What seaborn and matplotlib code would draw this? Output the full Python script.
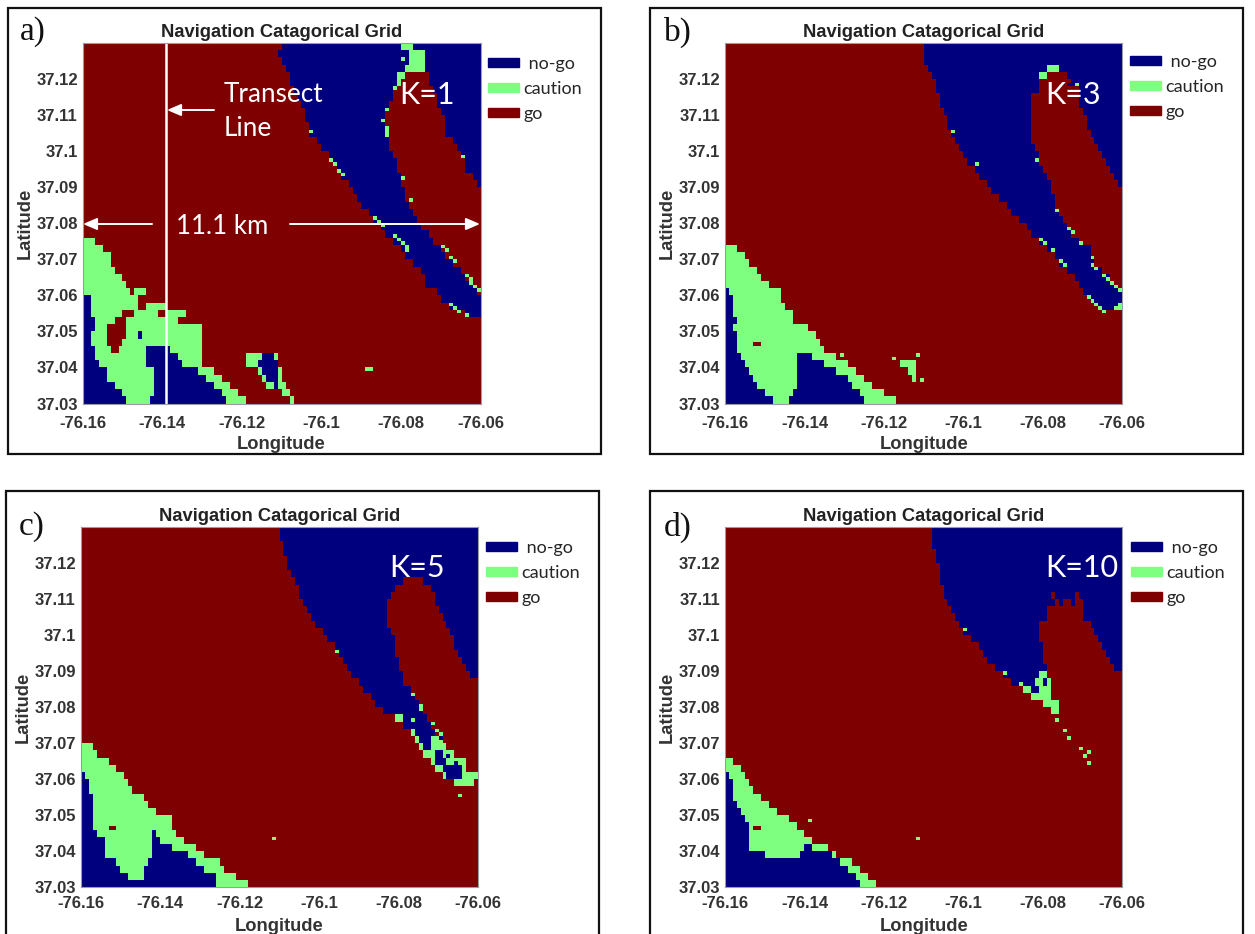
import numpy as np
import matplotlib
matplotlib.use("Agg")
import matplotlib.pyplot as plt
from matplotlib.colors import ListedColormap
from matplotlib.patches import Patch, Rectangle
import seaborn as sns

W, H = 1255, 934
CATEGORIES = ["no-go", "caution", "go"]
LEGEND_LABELS = [" no-go", "caution", "go"]
COLORS = ["#00007f", "#7fff7f", "#7f0000"]
LON_LABELS = ["-76.16", "-76.14", "-76.12", "-76.1", "-76.08", "-76.06"]
LON_TICK_COLS = [0, 20, 40, 60, 80, 100]
LAT_LABELS = ["37.12", "37.11", "37.1", "37.09", "37.08", "37.07", "37.06", "37.05", "37.04", "37.03"]
LAT_TICK_ROWS = [10, 20, 30, 40, 50, 60, 70, 80, 90, 100]
TITLE = "Navigation Catagorical Grid"

# Each string is one 2-row band from the north: letter = category, number = last column of the run
BANDS_A = [
 "r50 n80 c83 n100","r49 n82 c86 n100","r50 n82 c86 n100","r51 n81 c86 n100","r52 n79 c81 r87 n100",
 "r52 n79 c80 r87 n100","r53 n78 r88 n100","r54 n78 r89 n100","r55 n77 r89 n100","r56 n76 r90 n100",
 "r56 n76 r91 n100","r57 n76 r91 n100","r57 n76 r91 n100","r59 n77 r93 n100","r60 n77 r94 n100",
 "r62 n78 r95 n100","r63 n79 r96 n100","r64 n79 r96 n100","r65 n80 r98 n100","r67 n80 r99 n100",
 "r68 n81 r100","r69 n81 r100","r70 n82 r100","r72 n83 r100","r73 n84 r100",
 "r75 n85 r100","r76 n87 r100","c3 r78 n88 r100","c5 r80 n90 r100","c7 r81 n91 r100",
 "c7 r83 n93 r100","c8 r85 n95 r100","c10 r86 n96 r100","c11 r86 n98 r100","c12 r13 c16 r89 n99 r100",
 "n2 c14 r90 n100","n2 c14 r16 c21 r92 n100","n2 c10 r13 c19 r21 c26 r96 n100","n3 c8 r11 c24 r100","n3 c6 r11 c30 r100",
 "n2 c6 r11 c14 n15 c30 r100","n2 c6 r10 c30 r100","n3 c7 r9 c16 n22 c30 r100","n3 c16 n24 c30 r41 c45 n48 c49 r100","n4 c16 n25 c30 r41 c44 n49 r100",
 "n6 c18 n29 c33 r44 c45 n49 c50 r100","n6 c18 n31 c35 r45 c46 n49 c50 r100","n8 c18 n33 c37 r46 c48 n49 c51 r100","n10 c18 n35 c39 r50 c52 r100","n11 c17 n36 c41 r52 c53 r100",
]
BANDS_B = [
 "r50 n100","r50 n100","r50 n100","r51 n81 c84 n100","r52 n79 c81 r86 n100",
 "r53 n79 r87 n100","r53 n79 r89 n100","r54 n77 r89 n100","r54 n77 r89 n100","r55 n77 r90 n100",
 "r56 n77 r91 n100","r56 n77 r91 n100","r57 n77 r92 n100","r58 n77 r93 n100","r59 n78 r94 n100",
 "r60 n79 r95 n100","r61 n79 r96 n100","r63 n80 r97 n100","r64 n81 r98 n100","r66 n82 r99 n100",
 "r67 n82 r100","r69 n83 r100","r71 n83 r100","r72 n84 r100","r74 n85 r100",
 "r76 n86 r100","r77 n87 r100","r79 n89 r100","c3 r81 n92 r100","c5 r83 n92 r100",
 "c6 r84 n93 r100","c8 r86 n95 r100","c9 r88 n97 r100","c11 r89 n98 r100","n1 c14 r90 n100",
 "n2 c14 r92 n100","n2 c15 r94 n99 c100","n2 c17 r100","n3 c17 r100","n2 c21 r100",
 "n3 c23 r100","n3 c24 r100","n3 c25 r100","n4 c18 n22 c28 r100","n5 c18 n25 c31 r44 c48 r100",
 "n6 c18 n28 c33 r46 c48 r100","n7 c18 n31 c35 r47 c48 r100","n8 c18 n32 c37 r100","n10 c17 n34 c40 r100","n12 c16 n35 c43 r100",
]
BANDS_C = [
 "r50 n100","r50 n100","r51 n100","r51 n100","r52 n100",
 "r52 n100","r53 n100","r54 n81 r86 n100","r55 n79 r88 n100","r55 n78 r89 n100",
 "r56 n77 r89 n100","r57 n77 r90 n100","r58 n77 r91 n100","r59 n77 r92 n100","r61 n78 r93 n100",
 "r62 n79 r94 n100","r64 n79 r94 n100","r65 n79 r95 n100","r66 n80 r96 n100","r67 n80 r97 n100",
 "r68 n81 r98 n100","r70 n81 r100","r71 n83 r100","r73 n84 r100","r74 n85 r100",
 "r76 n86 r100","r79 c81 n87 r100","r81 n88 r100","r83 c84 n89 r100","r84 c85 n88 c91 r100",
 "c3 r85 c86 n88 c92 r100","c4 r86 c89 n91 c94 r100","c7 r88 c89 n92 c97 r100","c9 r89 c91 n96 c97 r100","n1 c11 r91 c92 n96 c100",
 "n2 c12 r94 c99 r100","n2 c13 r100","n3 c16 r100","n3 c17 r100","n3 c19 r100",
 "n3 c23 r100","n3 c23 r100","n4 c18 n19 c24 r100","n6 c18 n20 c26 r100","n6 c18 n23 c29 r100",
 "n6 c18 n27 c31 r100","n9 c17 n29 c35 r100","n10 c16 n31 c36 r100","n12 c16 n34 c39 r100","n34 c42 r100",
]
BANDS_D = [
 "r52 n100","r52 n100","r52 n100","r53 n100","r53 n100",
 "r54 n100","r54 n100","r54 n100","r55 n100","r55 n82 r83 n88 r89 n100",
 "r56 n83 r84 n85 r87 n88 r90 n100","r57 n81 r90 n100","r58 n81 r90 n100","r59 n79 r92 n100","r60 n79 r93 n100",
 "r62 n79 r94 n100","r64 n80 r95 n100","r65 n80 r96 n100","r66 n80 r97 n100","r68 n81 r98 n100",
 "r70 n79 c81 r100","r72 n78 c80 n81 c82 r100","r75 c77 n79 c82 r100","r77 c82 r100","r80 c84 r100",
 "r82 c84 r100","r100","r100","r100","r100",
 "r100","r100","c2 r100","c4 r100","n1 c5 r100",
 "n2 c6 r100","n2 c7 r100","n2 c9 r100","n3 c11 r100","n4 c13 r100",
 "n5 c16 r100","n6 c18 r100","n6 c20 r100","n6 c22 r100","n6 c20 n22 c26 r100",
 "n10 c19 n27 c28 r100","n29 c32 r100","n31 c34 r100","n33 c36 r100","n34 c38 r100",
]

# Single-cell marks: (column, row from north)
SPECKS_A = [(80,4),(78,12),(76,18),(75,21),(76,23),(76,24),(76,25),(57,24),(62,32),(63,33),(64,35),(65,36),
            (73,48),(74,49),(75,50),(95,31),(80,37),(82,43),(78,53),(79,54),(80,55),(81,56),(81,57),(90,56),
            (91,57),(92,59),(93,60),(96,64),(97,65),(97,66),(98,67),(99,68),(92,72),(93,73),(94,74),(96,75),
            (71,90),(72,90)]
SPECKS_B = [(88,11),(57,24),(63,33),(78,32),(83,46),(86,51),(87,52),(89,55),(92,59),(92,61),(93,62),(95,64),
            (96,65),(97,66),(98,67),(99,68),(79,54),(80,55),(82,57),(84,60),(85,61),(91,70),(92,71),(93,72),
            (94,73),(95,74),(98,73),(29,86),(42,87),(48,86),(49,93)]
NOGO_SPECKS_B = [(86,11)]
RED_SPECKS_B = [(7,83),(8,83),(14,70)]
SPECKS_C = [(83,46),(85,49),(85,50),(83,53),(88,54),(89,56),(90,57),(95,74),(64,34),(48,86)]
NOGO_SPECKS_C = [(90,58),(92,63),(94,65)]
RED_SPECKS_C = [(7,83),(8,83),(12,71)]
SPECKS_D = [(60,28),(70,40),(74,43),(83,53),(85,56),(86,58),(89,61),(91,62),(90,63),(91,65),(21,81),(48,86)]
RED_SPECKS_D = [(7,83),(8,83)]

# Panel layout in reference pixels: frame, axes, letter, K label, legend left, legend top row, x tick pad, x label pad
PANELS = [
    ("a)", BANDS_A, SPECKS_A, [], [], (8,8,601,454), (82.7,43,480.5,403.5), (20,32), (399,95), "K=1", 488, 64, 8.8, 4),
    ("b)", BANDS_B, SPECKS_B, NOGO_SPECKS_B, RED_SPECKS_B, (650,8,1243,454), (725,43,1122.3,403.5), (664,32), (1045,95), "K=3", 1130, 62, 8.8, 4),
    ("c)", BANDS_C, SPECKS_C, NOGO_SPECKS_C, RED_SPECKS_C, (6,491,599,945), (80.7,527,478.3,887.3), (19,527), (389,568), "K=5", 486, 548, 6.6, 4.7),
    ("d)", BANDS_D, SPECKS_D, [], RED_SPECKS_D, (650,491,1243,945), (725,527,1122.3,887.3), (664,527), (1045,568), "K=10", 1131, 548, 6.6, 4.7),
]

CODE = {"n": 0, "c": 1, "r": 2}


def build(bands, specks, nogo, red):
    rows = []
    for band in bands:
        row, start = [], 0
        for run in band.split():
            end = int(run[1:])
            row += [CODE[run[0]]] * (end - start)
            start = end
        rows.append(row)
    grid = np.repeat(np.array(rows), 2, axis=0)
    for c, r in specks:
        grid[r, c] = 1
    for c, r in nogo:
        grid[r, c] = 0
    for c, r in red:
        grid[r, c] = 2
    return grid


sns.set_theme(style="white")
plt.rcParams["font.family"] = ["Liberation Sans", "DejaVu Sans"]
fig = plt.figure(figsize=(W / 100, H / 100), dpi=100, facecolor="white")


def fx(x):
    return x / W


def fy(y):
    return 1 - y / H


cmap = ListedColormap(COLORS)
for letter, bands, specks, nogo, red, frame, box, lpos, kpos, ktext, legx, legy, xpad, xlabpad in PANELS:
    fig.add_artist(Rectangle((fx(frame[0]), fy(frame[3])), (frame[2] - frame[0]) / W, (frame[3] - frame[1]) / H,
                             transform=fig.transFigure, fill=False, ec="#111111", lw=1.6, zorder=0))
    ax = fig.add_axes([fx(box[0]), fy(box[3]), (box[2] - box[0]) / W, (box[3] - box[1]) / H])
    sns.heatmap(build(bands, specks, nogo, red), ax=ax, cmap=cmap, vmin=0, vmax=2, cbar=False,
                xticklabels=False, yticklabels=False, linewidths=0)
    ax.set_xticks(LON_TICK_COLS)
    ax.set_xticklabels(LON_LABELS, rotation=0)
    ax.set_yticks(LAT_TICK_ROWS)
    ax.set_yticklabels(LAT_LABELS, rotation=0)
    ax.tick_params(axis="x", length=0, pad=xpad, labelsize=12, colors="#333333")
    ax.tick_params(axis="y", length=0, pad=3.5, labelsize=12, colors="#333333")
    for lab in ax.get_xticklabels() + ax.get_yticklabels():
        lab.set_fontweight("bold")
    for s in ax.spines.values():
        s.set_visible(True)
        s.set_color("#9a9aa8")
        s.set_linewidth(0.8)
    ax.set_title(TITLE, fontsize=13.2, fontweight="bold", color="#222222", pad=4.5)
    ax.set_xlabel("Longitude", fontsize=13.2, fontweight="bold", color="#333333", labelpad=xlabpad)
    ax.set_ylabel("Latitude", fontsize=13.2, fontweight="bold", color="#333333", labelpad=2)

    fig.text(fx(lpos[0]), fy(lpos[1]), letter, fontsize=24, family="Liberation Serif", color="#111111", va="center")
    fig.text(fx(kpos[0]), fy(kpos[1]), ktext, fontsize=22, family="Lato", color="white", va="center")

    handles = [Patch(color=c) for c in COLORS]
    leg = ax.legend(handles, LEGEND_LABELS, loc="upper left", frameon=False, prop={"family": "Lato", "size": 13},
                    bbox_to_anchor=(fx(legx), fy(legy - 8)), bbox_transform=fig.transFigure,
                    handlelength=1.72, handleheight=0.45, handletextpad=0.25, labelspacing=0.5,
                    borderaxespad=0, borderpad=0)

    if letter == "a)":
        ax.axvline(21, color="white", lw=1.8)
        white = dict(color="white", family="Lato", va="center")
        fig.text(fx(224), fy(95), "Transect", fontsize=18.8, **white)
        fig.text(fx(224), fy(129), "Line", fontsize=18.8, **white)
        fig.text(fx(176), fy(226), "11.1 km", fontsize=18.6, **white)
        arrow = dict(arrowstyle="-|>,head_width=0.3,head_length=0.7", color="white", lw=1.4,
                     shrinkA=0, shrinkB=0)
        for tail, head, y in [(214, 167, 110), (152, 83, 224), (290, 480, 224)]:
            ax.annotate("", xy=(fx(head), fy(y)), xytext=(fx(tail), fy(y)),
                        xycoords="figure fraction", textcoords="figure fraction", arrowprops=arrow)

fig.savefig("out.png", dpi=100, facecolor="white")
